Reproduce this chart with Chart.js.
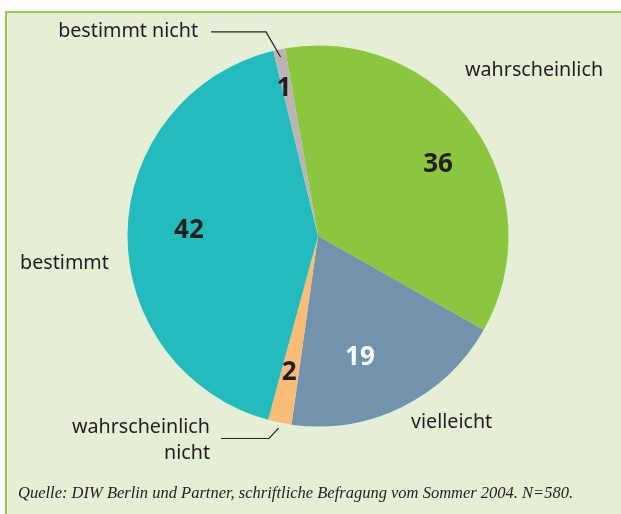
<!DOCTYPE html>
<html>
<head>
<meta charset="utf-8">
<script src="https://cdn.jsdelivr.net/npm/chart.js@4"></script>
<style>
  html, body { margin: 0; padding: 0; background: #ffffff; width: 621px; height: 514px; overflow: hidden; }
  #frame { position: absolute; left: 5px; top: 11px; width: 640px; height: 540px;
           background: #e5efd6; border-left: 2px solid #95cb55; border-top: 2px solid #95cb55; }
  #wrap { position: absolute; left: 0; top: 0; width: 621px; height: 514px; }
</style>
</head>
<body>
<div id="frame"></div>
<div id="wrap"><canvas id="c" width="621" height="514"></canvas></div>
<script>
// ---- data ----
const categories = ["wahrscheinlich", "vielleicht", "wahrscheinlich nicht", "bestimmt", "bestimmt nicht"];
const shares = [36, 19, 2, 42, 1];
const sliceColors = ["#8cc63f", "#7193ae", "#fbbc7a", "#23bcbc", "#bcb4b4"];
const sourceNote = "Quelle: DIW Berlin und Partner, schriftliche Befragung vom Sommer 2004. N=580.";

// label placement (style, relative to pie centre, in units of radius)
const numberPlacement = [ // [angle offset deg, radius fraction]
  [4.2, 0.735], [7, 0.67], [0.4, 0.73], [1.9, 0.678], [-1.1, 0.80]
];
const numberColors = ["#231f20", "#ffffff", "#231f20", "#231f20", "#231f20"];
const outerLabels = [ // lines, dx, dy, align
  { lines: ["wahrscheinlich"], dx: 0.772, dy: -0.871, align: "left" },
  { lines: ["vielleicht"], dx: 0.488, dy: 0.976, align: "left" },
  { lines: ["wahrscheinlich", "nicht"], dx: -0.567, dy: 1.003, align: "right" },
  { lines: ["bestimmt"], dx: -1.564, dy: 0.142, align: "left" },
  { lines: ["bestimmt nicht"], dx: -0.630, dy: -1.076, align: "right" }
];
const leaders = { // slice index -> [start, elbow] relative, end at arc mid * frac
  2: { start: [-0.509, 1.063], elbow: [-0.257, 1.063], frac: 1.03 },
  4: { start: [-0.561, -1.071], elbow: [-0.273, -1.071], frac: 0.96 }
};

const labelPlugin = {
  id: "labels",
  afterDraw(chart) {
    const ctx = chart.ctx;
    const arcs = chart.getDatasetMeta(0).data;
    const a0 = arcs[0];
    const cx = a0.x, cy = a0.y, R = a0.outerRadius;
    ctx.save();
    // numbers
    arcs.forEach((arc, i) => {
      const mid = (arc.startAngle + arc.endAngle) / 2 + numberPlacement[i][0] * Math.PI / 180;
      const r = R * numberPlacement[i][1];
      ctx.font = "bold 26px 'Open Sans', sans-serif";
      ctx.fillStyle = numberColors[i];
      ctx.textAlign = "center";
      ctx.textBaseline = "middle";
      ctx.fillText(String(shares[i]), cx + Math.cos(mid) * r, cy + Math.sin(mid) * r + 1);
    });
    // outer labels
    ctx.font = "19.7px 'Noto Sans', sans-serif";
    ctx.fillStyle = "#231f20";
    ctx.textBaseline = "middle";
    outerLabels.forEach(l => {
      ctx.textAlign = l.align;
      l.lines.forEach((t, k) => {
        ctx.fillText(t, cx + l.dx * R, cy + l.dy * R + k * 26);
      });
    });
    // leader lines
    ctx.strokeStyle = "#231f20";
    ctx.lineWidth = 1.2;
    Object.keys(leaders).forEach(k => {
      const arc = arcs[k];
      const L = leaders[k];
      const mid = (arc.startAngle + arc.endAngle) / 2;
      ctx.beginPath();
      ctx.moveTo(cx + L.start[0] * R, cy + L.start[1] * R);
      ctx.lineTo(cx + L.elbow[0] * R, cy + L.elbow[1] * R);
      ctx.lineTo(cx + Math.cos(mid) * R * L.frac, cy + Math.sin(mid) * R * L.frac);
      ctx.stroke();
    });
    // source
    ctx.font = "italic 16.5px 'Liberation Serif', serif";
    ctx.textAlign = "left";
    ctx.textBaseline = "middle";
    ctx.fillStyle = "#231f20";
    ctx.fillText(sourceNote, 18, 494);
    ctx.restore();
  }
};

new Chart(document.getElementById("c"), {
  type: "pie",
  data: {
    labels: categories,
    datasets: [{ data: shares, backgroundColor: sliceColors, borderWidth: 0 }]
  },
  options: {
    responsive: false,
    animation: false,
    rotation: -10,
    layout: { padding: { left: 127.5, top: 45.5, right: 112.5, bottom: 87.5 } },
    plugins: { legend: { display: false }, tooltip: { enabled: false } }
  },
  plugins: [labelPlugin]
});
</script>
</body>
</html>
